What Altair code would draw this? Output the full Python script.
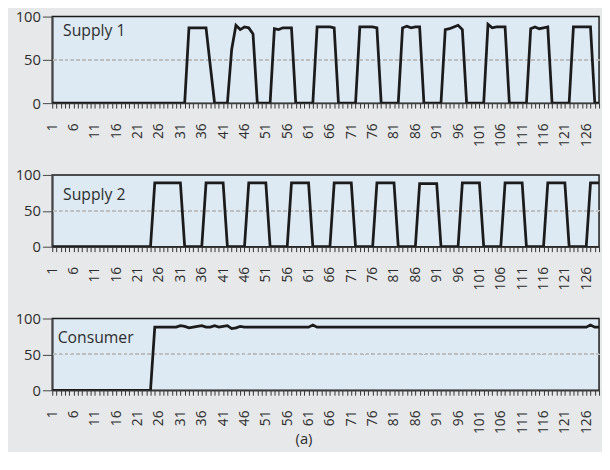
import altair as alt
import pandas as pd

# ---- data ----
x_vals = list(range(1, 130))

supply1 = (
    [0] * 32
    + [87, 87, 87, 87, 87]            # 33-37
    + [43]                            # 38
    + [0, 0, 0, 0]                    # 39-42
    + [62, 90, 85, 88, 87, 80]        # 43-48
    + [0, 0, 0, 0]                    # 49-52
    + [86, 85, 87, 87, 87]            # 53-57
    + [0] * 5                         # 58-62
    + [88, 88, 88, 88, 87]            # 63-67
    + [0] * 5                         # 68-72
    + [88, 88, 88, 88, 87]            # 73-77
    + [0] * 5                         # 78-82
    + [87, 89, 87, 88, 88]            # 83-87
    + [0] * 5                         # 88-92
    + [85, 86, 88, 90, 85]            # 93-97
    + [0] * 5                         # 98-102
    + [91, 87, 88, 88, 88]            # 103-107
    + [0] * 5                         # 108-112
    + [86, 88, 86, 87, 88]            # 113-117
    + [0] * 5                         # 118-122
    + [88, 88, 88, 88, 88]            # 123-127
    + [0, 0]                          # 128-129
)

supply2 = (
    [0] * 24
    + [89] * 7                        # 25-31
    + [0] * 5 + [89] * 5              # 32-41
    + [0] * 5 + [89] * 5              # 42-51
    + [0] * 5 + [89] * 5              # 52-61
    + [0] * 5 + [89] * 5              # 62-71
    + [0] * 5 + [89] * 5              # 72-81
    + [0] * 5 + [88] * 5              # 82-91
    + [0] * 5 + [89] * 5              # 92-101
    + [0] * 5 + [89] * 5              # 102-111
    + [0] * 5 + [89] * 5              # 112-121
    + [0] * 5 + [89] * 3              # 122-129
)

consumer = (
    [0] * 24
    + [88] * 6                        # 25-30
    + [90, 89, 87, 88, 89, 90, 88, 88, 90, 88, 89, 90, 86, 87, 89, 88]  # 31-46
    + [88] * 15                       # 47-61
    + [91]                            # 62
    + [88] * 64                       # 63-126
    + [91]                            # 127
    + [88, 88]                        # 128-129
)

panel_names = ["Supply 1", "Supply 2", "Consumer"]
y_ticks = [0, 50, 100]
caption = "(a)"

FONT = "Open Sans"
TEXT = "#2e2e2e"


def panel(name, values, height, label_x, label_y, last=False):
    df = pd.DataFrame({"t": x_vals, "v": values})
    x_axis = dict(
        values=x_vals,
        tickCount=500,
        format="d",
        labelExpr="(datum.value - 1) % 5 === 0 ? datum.label : ''",
        labelAngle=-90,
        labelOverlap=False,
        labelFlush=False,
        labelFontSize=14,
        labelColor=TEXT,
        labelFont=FONT,
        labelPadding=15,
        tickSize=5,
        tickColor="#333333",
        tickWidth=1,
        domainColor="#3a3a3a",
        domainWidth=1.5,
        grid=False,
        title=None,
    )

    xenc = alt.X(
        "t:Q",
        scale=alt.Scale(domain=[1, 129], nice=False, zero=False),
        axis=alt.Axis(**x_axis),
    )
    yenc = alt.Y(
        "v:Q",
        scale=alt.Scale(domain=[0, 100], nice=False),
        axis=alt.Axis(
            values=y_ticks,
            tickCount=10,
            format="d",
            title=None,
            grid=False,
            labelOverlap=False,
            labelFlush=False,
            labelFontSize=15,
            labelColor=TEXT,
            labelFont=FONT,
            labelPadding=2,
            tickSize=10,
            tickColor="#444444",
            domainColor="#444444",
            domainWidth=1.8,
        ),
    )
    line = alt.Chart(df).mark_line(
        color="#1b1b1b", strokeWidth=2.8, strokeJoin="miter", clip=True
    ).encode(x=xenc, y=yenc)

    grid = alt.Chart(df).mark_rule(
        color="#bfbfbf", strokeDash=[3, 3], strokeWidth=1
    ).encode(y=alt.datum(50))

    lbl = alt.Chart(pd.DataFrame({"name": [name]})).mark_text(
        align="left", baseline="alphabetic", fontSize=16, font=FONT, color=TEXT
    ).encode(text="name:N", x=alt.value(label_x), y=alt.value(label_y))

    layers = [grid, line, lbl]
    if last:
        cap = alt.Chart(pd.DataFrame({"cap": [caption]})).mark_text(
            align="center", baseline="alphabetic", fontSize=15, font=FONT, color=TEXT
        ).encode(text="cap:N", x=alt.value(256), y=alt.value(height + 55))
        layers.append(cap)

    return alt.layer(*layers).properties(width=556, height=height)


p1 = panel(panel_names[0], supply1, 88, 11, 19.5)
p2 = panel(panel_names[1], supply2, 73, 11, 26)
p3 = panel(panel_names[2], consumer, 73, 5.5, 24.5, last=True)

chart = (
    alt.vconcat(p1, p2, p3, spacing=73, bounds="flush")
    .properties(padding={"left": 6, "top": -3, "right": -5, "bottom": 0})
    .configure(background="#e7e8ea")
    .configure_view(fill="#dde9f3", stroke="#1a1a1a", strokeWidth=1.5)
)

chart.save("out.html", embed_options={"renderer": "svg", "actions": False})
